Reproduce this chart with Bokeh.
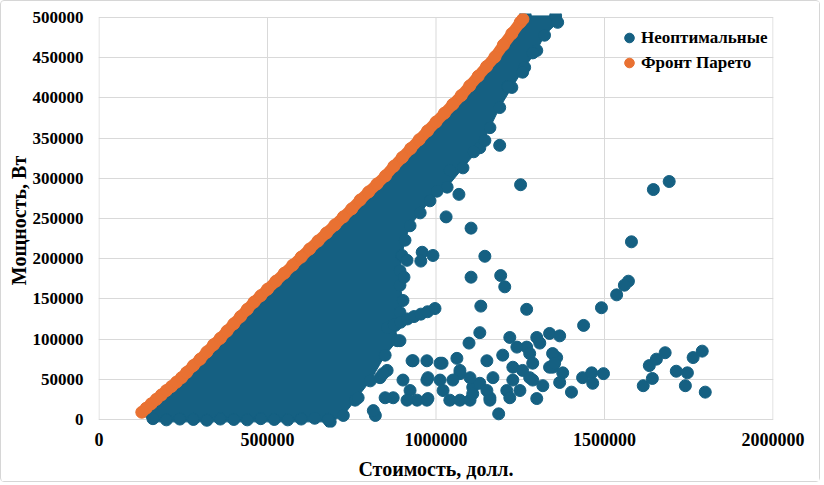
from bokeh.plotting import figure
from bokeh.models import Range1d, FixedTicker, Legend, LegendItem, BasicTickFormatter
from bokeh.embed import file_html
from bokeh.resources import INLINE

# ---------------- data ----------------
x_ticks = [0, 500000, 1000000, 1500000, 2000000]
x_tick_labels = ["0", "500000", "1000000", "1500000", "2000000"]
y_ticks = [0, 50000, 100000, 150000, 200000, 250000, 300000, 350000, 400000, 450000, 500000]
y_tick_labels = ["0", "50000", "100000", "150000", "200000", "250000", "300000",
                 "350000", "400000", "450000", "500000"]

# Pareto front (cost, power)
front_x = [127000, 140000, 155000, 170000, 185000, 200000, 215000, 230000, 245000, 260000,
           280000, 300000, 320000, 340000, 360000, 380000, 400000, 420000, 440000, 460000,
           480000, 500000, 525000, 550000, 575000, 600000, 625000, 650000, 675000, 700000,
           725000, 750000, 775000, 800000, 825000, 850000, 875000, 900000, 925000, 950000,
           975000, 1000000, 1025000, 1050000, 1075000, 1100000, 1125000, 1150000, 1175000, 1200000,
           1225000, 1250000, 1258000]
front_y = [9000, 14000, 19500, 25000, 30500, 36000, 41000, 46500, 52000, 58500,
           67000, 75000, 84000, 93000, 101000, 110000, 119000, 128000, 137000, 146000,
           154000, 162000, 172000, 182000, 192000, 202000, 212000, 222000, 232000, 242000,
           252000, 262000, 273000, 283000, 293000, 303000, 315000, 326000, 337000, 348000,
           359000, 370000, 381000, 392000, 403000, 415000, 427000, 439000, 451000, 466000,
           480000, 494000, 498000]

# outline of the dense cloud of non-optimal solutions
dense_x = [135000, 240000, 357000, 470000, 595000, 720000, 842000, 955000, 1068000, 1172000,
           1254000, 1265000, 1355000, 1361000, 1322000, 1299000, 1263000, 1225000, 1189000, 1160000,
           1130000, 1080000, 1033000, 982000, 953000, 923000, 908000, 899000, 893000, 893000,
           902000, 893000, 879000, 885000, 849000, 805000, 760000, 725000, 686000, 150000]
dense_y = [5000, 48000, 98000, 148000, 198000, 248000, 298000, 348000, 398000, 448000,
           494000, 502000, 502000, 494000, 478000, 459000, 438000, 413000, 388000, 363000,
           338000, 313000, 289000, 272000, 257000, 241000, 223000, 204000, 185000, 167000,
           148000, 133000, 117000, 98000, 80000, 48000, 24000, 5000, -3000, -3000]

# points along the lower edge of the dense cloud
edge_bottom_x = [160000, 200000, 240000, 280000, 320000, 360000, 400000, 440000,
                 480000, 520000, 560000, 600000, 640000, 680000]
edge_bottom_y = [1000, -500, 500, 0, -1000, 500, 0, -500, 1000, 0, -500, 500, 1500, 0]

# scattered non-optimal solutions
out_x = [1287000, 1257000, 1213000, 1145000, 1189000, 1112000, 1041000, 1251000, 1003000, 1068000,
         1030000, 1104000, 959000, 991000, 914000, 955000, 905000, 1145000, 1104000, 1192000,
         1204000, 1133000, 1269000, 1130000, 1098000, 1645000, 1692000, 1580000, 1571000, 1559000,
         1536000, 1491000, 1438000,
         855000, 875000, 895000, 915000, 935000, 955000, 975000, 997000,
         769000, 820000, 814000, 834000, 855000, 873000, 923000, 944000, 932000, 893000,
         843000, 902000, 973000, 914000, 849000, 976000, 929000, 973000, 1018000, 1062000,
         1071000, 1041000, 1109000, 1160000, 1186000, 1219000, 1151000, 1228000, 1269000, 1299000,
         1337000, 1287000, 1299000, 1337000, 1012000, 1198000, 1240000, 1278000, 1308000, 1367000,
         1287000, 1257000, 1228000, 1210000, 1169000, 1130000, 1101000, 1071000, 1050000, 1071000,
         1101000, 1151000, 1160000, 1317000, 1346000, 1358000, 976000, 973000, 1012000, 1278000,
         1249000, 1219000, 1109000, 1021000,
         1346000, 1352000, 1376000, 1367000, 1402000, 1435000, 1462000, 1465000, 1497000, 1615000,
         1642000, 1633000, 1654000, 1680000, 1713000, 1746000, 1763000, 1790000, 1740000, 1799000]
out_y = [456000, 432000, 414000, 347000, 341000, 333000, 310000, 292000, 284000, 280000,
         252000, 238000, 208000, 204000, 198000, 197000, 177000, 203000, 177000, 179000,
         165000, 141000, 137000, 108000, 95000, 286000, 296000, 221000, 172000, 167000,
         155000, 139000, 117000,
         114000, 118000, 121000, 125000, 128000, 131000, 134000, 138000,
         27000, 5000, 11000, 52000, 61000, 27000, 36000, 24000, 73000, 98000,
         57000, 49000, 49000, 24000, 27000, 26000, 73000, 73000, 70000, 76000,
         57000, 24000, 40000, 27000, 7000, 102000, 73000, 65000, 90000, 102000,
         107000, 49000, 26000, 65000, 70000, 80000, 90000, 82000, 95000, 104000,
         70000, 61000, 49000, 36000, 52000, 45000, 52000, 61000, 49000, 24000,
         24000, 36000, 24000, 42000, 65000, 77000, 52000, 24000, 49000, 52000,
         36000, 27000, 32000, 36000,
         82000, 70000, 58000, 46000, 34000, 52000, 58000, 45000, 57000, 42000,
         51000, 67000, 75000, 83000, 60000, 58000, 77000, 85000, 42000, 34000]

# ---------------- styles ----------------
BLUE = "#156082"
ORANGE = "#E97132"
GRID = "#D9D9D9"
FONT = "Liberation Serif"

p = figure(width=820, height=482, output_backend="svg", toolbar_location=None,
           x_range=Range1d(-1500, 2001500), y_range=Range1d(-10000, 505000),
           min_border_left=97, min_border_right=48, min_border_top=12, min_border_bottom=56)
p.styles = {"border": "1px solid #D6D6D6", "border-radius": "4px"}
p.outline_line_color = None
p.background_fill_color = "white"

p.xgrid.visible = False
p.ygrid.ticker = FixedTicker(ticks=y_ticks)
p.ygrid.grid_line_color = GRID
p.ygrid.grid_line_width = 1

# vertical grid lines limited to the 0..500000 span
p.segment(x0=x_ticks, y0=[y_ticks[0]] * len(x_ticks), x1=x_ticks, y1=[y_ticks[-1]] * len(x_ticks),
          line_color=GRID, line_width=1)

p.xaxis.ticker = FixedTicker(ticks=x_ticks)
p.yaxis.ticker = FixedTicker(ticks=y_ticks)
p.xaxis.formatter = BasicTickFormatter(use_scientific=False)
p.yaxis.formatter = BasicTickFormatter(use_scientific=False)
p.xaxis.major_label_overrides = dict(zip(x_ticks, x_tick_labels))
p.yaxis.major_label_overrides = dict(zip(y_ticks, y_tick_labels))

for ax in (p.xaxis[0], p.yaxis[0]):
    ax.axis_line_color = None
    ax.major_tick_line_color = None
    ax.minor_tick_line_color = None
    ax.major_tick_out = 0
    ax.major_tick_in = 0
    ax.major_label_text_font = FONT
    ax.major_label_text_font_style = "bold"
    ax.major_label_text_color = "black"
    ax.axis_label_text_font = FONT
    ax.axis_label_text_font_style = "bold"
    ax.axis_label_text_color = "black"

p.xaxis.major_label_text_font_size = "18px"
p.yaxis.major_label_text_font_size = "17px"
p.xaxis.axis_label_text_font_size = "20px"
p.yaxis.axis_label_text_font_size = "20px"

p.xaxis.axis_label = "Стоимость, долл."
p.yaxis.axis_label = "Мощность, Вт"
p.xaxis.major_label_standoff = 5
p.xaxis.axis_label_standoff = 9
p.yaxis.major_label_standoff = 15
p.yaxis.axis_label_standoff = 0

# dense cloud
p.patch(dense_x, dense_y, fill_color=BLUE, line_color=BLUE, line_width=1)
p.scatter(dense_x[11:39], dense_y[11:39], size=12, marker="circle", color=BLUE)
p.scatter(edge_bottom_x, edge_bottom_y, size=12, marker="circle", color=BLUE)
out_r = p.scatter(out_x, out_y, size=12, marker="circle", color=BLUE)

# Pareto front
p.line(front_x, front_y, line_color=ORANGE, line_width=11, line_cap="round")
front_r = p.scatter(front_x, front_y, size=12, marker="circle", color=ORANGE)

legend = Legend(items=[LegendItem(label="Неоптимальные", renderers=[out_r]),
                       LegendItem(label="Фронт Парето", renderers=[front_r])],
                location=(519, 352))
legend.border_line_color = None
legend.background_fill_alpha = 0
legend.padding = 0
legend.margin = 0
legend.spacing = 0
legend.glyph_width = 24
legend.glyph_height = 25
legend.label_height = 25
legend.label_width = 130
legend.label_standoff = 0
legend.label_text_font = FONT
legend.label_text_font_style = "bold"
legend.label_text_font_size = "17px"
legend.label_text_color = "black"
p.add_layout(legend)

open("out.html", "w").write(file_html(p, INLINE))
